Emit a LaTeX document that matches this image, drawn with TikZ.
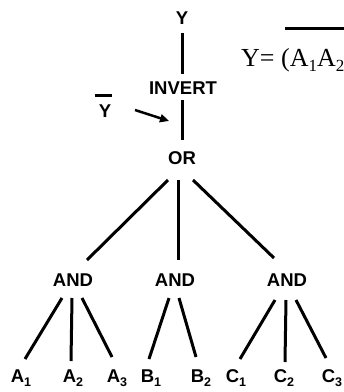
\documentclass[tikz,border=0pt]{standalone}
\usepackage{fontspec}
\setmainfont{Liberation Serif}
\newfontfamily\labfont{Liberation Sans}
\usetikzlibrary{arrows.meta}
\newcommand\lsub[1]{\raisebox{-4pt}{\fontsize{12.5}{13}\selectfont #1}}
\newcommand\esub[1]{\raisebox{-5pt}{\fontsize{17}{18}\selectfont #1}}
\tikzset{
  lbl/.style={font=\labfont\bfseries\fontsize{18.5}{20}\selectfont, inner sep=0pt},
  leaf/.style={lbl, anchor=base},
  conn/.style={line width=3pt},
}
\begin{document}
\begin{tikzpicture}[x=1pt,y=-1pt]
\useasboundingbox (0,0) rectangle (344,392);
\clip (0,0) rectangle (344,392);
% nodes
\node[lbl] (ytop) at (182,18) {Y};
\node[lbl] (inv) at (183,88.5) {INVERT};
\node[lbl] (or) at (182,158) {OR};
\node[lbl] (yb) at (105,111) {Y};
\coordinate (arr) at (169,121);
\node[lbl] (and1) at (73,280) {AND};
\node[lbl] (and2) at (175,280) {AND};
\node[lbl] (and3) at (287,280) {AND};
\node[leaf] (a1) at (21,382) {A\lsub{1}};
\node[leaf] (a2) at (73,382) {A\lsub{2}};
\node[leaf] (a3) at (117,382) {A\lsub{3}};
\node[leaf] (b1) at (151,382) {B\lsub{1}};
\node[leaf] (b2) at (201,382) {B\lsub{2}};
\node[leaf] (c1) at (236,382) {C\lsub{1}};
\node[leaf] (c2) at (284,382) {C\lsub{2}};
\node[leaf] (c3) at (332,382) {C\lsub{3}};
\node[anchor=base west, inner sep=0pt, font=\fontsize{26}{28}\selectfont] (eq) at (241,66) {Y= (A\esub{1}A\esub{2}};
% formula overline
\draw[line width=3pt] (285,28) -- (346,28);
% Y bar
\draw[line width=3pt] ([shift={(-10,-16)}]yb.center) -- ([shift={(7,-16)}]yb.center);
% arrow
\draw[line width=2.5pt, -{Triangle[length=9pt,width=8pt]}] ([shift={(30,-1)}]yb.center) -- (arr);
% connectors
\draw[conn] ([shift={(0,15)}]ytop.center) -- ([shift={(-1,-14.5)}]inv.center);
\draw[conn] ([shift={(-1,11.5)}]inv.center) -- ([shift={(0,-18)}]or.center);
\draw[conn] ([shift={(-14,22)}]or.center) -- ([shift={(14,-20)}]and1.center);
\draw[conn] ([shift={(-4,22)}]or.center) -- ([shift={(3,-20)}]and2.center);
\draw[conn] ([shift={(11,22)}]or.center) -- ([shift={(-13,-22)}]and3.center);
\draw[conn] ([shift={(-11,18)}]and1.center) -- ([shift={(4,-23)}]a1.base);
\draw[conn] ([shift={(-1,18)}]and1.center) -- ([shift={(-2,-21)}]a2.base);
\draw[conn] ([shift={(9,18)}]and1.center) -- ([shift={(-5,-25)}]a3.base);
\draw[conn] ([shift={(-6,18)}]and2.center) -- ([shift={(-2,-23)}]b1.base);
\draw[conn] ([shift={(4,18)}]and2.center) -- ([shift={(-5,-25)}]b2.base);
\draw[conn] ([shift={(-12,20)}]and3.center) -- ([shift={(4,-23)}]c1.base);
\draw[conn] ([shift={(-1,20)}]and3.center) -- ([shift={(1,-20)}]c2.base);
\draw[conn] ([shift={(9,20)}]and3.center) -- ([shift={(-6,-24)}]c3.base);
\end{tikzpicture}
\end{document}
